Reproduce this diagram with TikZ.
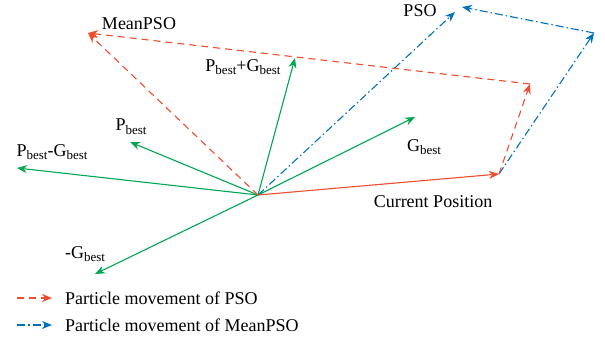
\documentclass[tikz,border=0pt]{standalone}
\usepackage{fontspec}
\setmainfont{Liberation Serif}
\usetikzlibrary{arrows.meta}
\definecolor{myred}{RGB}{238,77,46}
\definecolor{mygreen}{RGB}{0,166,81}
\definecolor{myblue}{RGB}{0,114,188}
\newcommand{\sbest}{\raisebox{-0.45ex}{\fontsize{13}{14}\selectfont best}}
\begin{document}
\begin{tikzpicture}[x=1pt,y=-1pt,
  tip/.style={-{Stealth[length=10pt,width=8pt]}},
  vec/.style={tip,mygreen,line width=1.1pt},
  cur/.style={tip,myred,line width=1.1pt},
  psoline/.style={tip,myred,line width=1.1pt,dash pattern=on 7pt off 5pt},
  meanline/.style={tip,myblue,line width=1.1pt,dash pattern=on 8pt off 3pt on 1.5pt off 3pt},
  lbl/.style={font=\fontsize{18}{20}\selectfont,inner sep=0pt}]
\useasboundingbox (0,0) rectangle (605,341);
\coordinate (O) at (258,195);
\coordinate (C) at (499,174);
\coordinate (R) at (530,84);
\coordinate (M) at (88,33);
\coordinate (B) at (594,33);
\coordinate (P1) at (455,12);
\coordinate (P2) at (462,7);
\coordinate (PG) at (295,58);
\coordinate (Pb) at (130,142);
\coordinate (PmG) at (17,168);
\coordinate (Gb) at (415,117);
\coordinate (mG) at (95,274);
% green vectors
\draw[vec] (O) -- (PG);
\draw[vec] (O) -- (Pb);
\draw[vec] (O) -- (PmG);
\draw[vec] (O) -- (Gb);
\draw[vec] (O) -- (mG);
% blue dash-dot
\draw[meanline] (O) -- (P1);
\draw[meanline] (C) -- (B);
\draw[meanline] (B) -- (P2);
% red
\draw[cur] (O) -- (C);
\draw[psoline] (C) -- (R);
\draw[psoline] (R) -- (M);
\draw[psoline] (O) -- (M);
% labels
\node[lbl] (lMean) at (139,24) {MeanPSO};
\node[lbl] (lPSO) at (420,11) {PSO};
\node[lbl] (lPG) at (243,67) {P\sbest+G\sbest};
\node[lbl] (lPb) at (131,127) {P\sbest};
\node[lbl] (lPmG) at (52,152) {P\sbest-G\sbest};
\node[lbl] (lGb) at (424,147) {G\sbest};
\node[lbl] (lCur) at (433,202) {Current Position};
\node[lbl] (lmG) at (85,254) {-G\sbest};
% legend
\coordinate (L1a) at (17,298);
\coordinate (L1b) at (52,298);
\coordinate (L2a) at (17,325);
\coordinate (L2b) at (52,325);
\draw[psoline] (L1a) -- (L1b);
\draw[meanline] (L2a) -- (L2b);
\node[lbl,anchor=west] (t1) at (65,298) {Particle movement of PSO};
\node[lbl,anchor=west] (t2) at (65,325) {Particle movement of MeanPSO};
\end{tikzpicture}
\end{document}
